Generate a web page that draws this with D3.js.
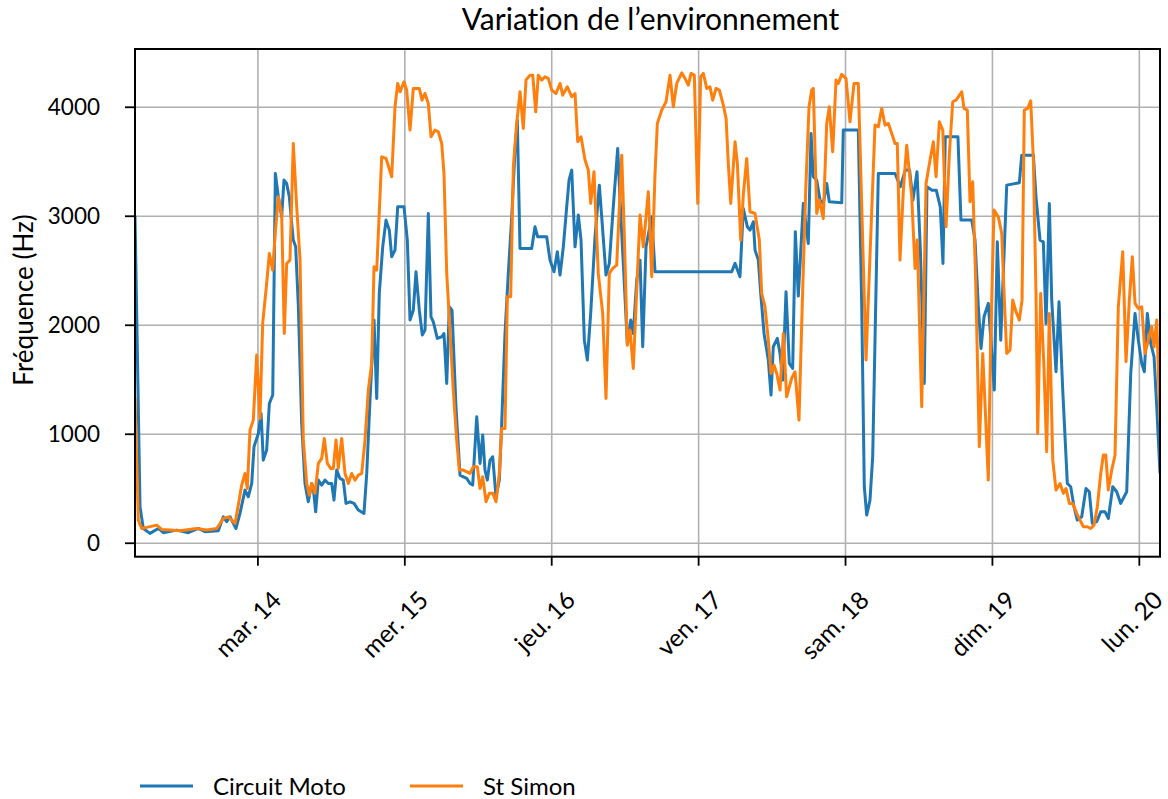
<!DOCTYPE html>
<html>
<head>
<meta charset="utf-8">
<script src="https://cdn.jsdelivr.net/npm/d3@7"></script>
<style>
body { margin: 0; background: #fff; }
text { font-family: Lato, sans-serif; fill: #000; font-variant-ligatures: none; }
</style>
</head>
<body>
<svg></svg>
<script>
// hours since 13 March 2023 04:00, value in Hz
let start = new Date(2023, 2, 13, 4, 0)
let endHours = 167.46

let motoData = [[0,3000],[0.82,330],[1.36,131],[2.45,86],[3.81,131],[4.63,92],[6.81,116],[8.71,92],[10.35,131],[11.44,101],[13.61,110],[14.43,238],[14.98,193],[15.52,238],[16.5,131],[17.15,269],[17.97,483],[18.51,422],[19.07,544],[19.44,880],[20.15,1003],[20.6,1186],[20.96,758],[21.51,850],[21.95,1278],[22.5,1355],[22.93,3388],[23.42,3174],[23.96,2990],[24.34,3327],[24.78,3296],[25.21,3174],[25.86,2777],[26.25,2715],[26.69,2165],[27.23,1095],[27.77,544],[28.31,376],[28.87,544],[29.13,498],[29.52,284],[29.95,575],[30.5,529],[31.04,575],[31.58,544],[32.14,544],[32.51,391],[32.95,667],[33.49,590],[34.03,575],[34.47,361],[35.13,376],[35.78,361],[36.48,300],[37.41,269],[37.86,636],[38.39,1309],[39.05,2043],[39.49,1324],[39.91,2287],[40.47,2715],[41.01,2960],[41.55,2868],[41.94,2624],[42.48,2685],[42.92,3082],[43.95,3082],[44.49,2777],[44.93,2043],[45.47,2134],[45.91,2486],[46.45,2134],[46.94,1905],[47.38,1951],[47.92,3021],[48.36,2073],[48.74,2027],[49.39,1875],[50.11,1890],[50.48,1920],[50.93,1462],[51.35,2165],[51.79,2134],[52.44,1248],[53.1,621],[53.64,605],[54.19,590],[54.73,544],[55.17,529],[55.83,1156],[56.37,728],[56.81,988],[57.18,667],[57.56,575],[58.0,758],[58.44,789],[58.98,422],[59.52,575],[59.91,1095],[60.45,1920],[60.99,2471],[61.55,2990],[62.08,3602],[62.46,3878],[62.9,2700],[64.81,2700],[65.35,2899],[65.79,2807],[67.26,2807],[67.8,2593],[68.46,2486],[69.0,2670],[69.44,2456],[69.98,2715],[70.53,3082],[70.91,3327],[71.35,3419],[71.89,2715],[72.43,3006],[72.87,2777],[73.41,1859],[73.9,1676],[74.45,2104],[75.16,2807],[75.86,3281],[76.41,2868],[76.95,2456],[77.49,2563],[78.14,3082],[78.86,3618],[79.35,3021],[79.89,2440],[80.43,1829],[80.99,2043],[81.41,1920],[81.97,2410],[82.51,2593],[82.95,1798],[83.49,2715],[84.42,2990],[84.96,2486],[97.49,2486],[98.03,2563],[98.84,2440],[99.38,3067],[100.04,2899],[100.48,2868],[101.02,2945],[101.3,2685],[101.84,2593],[102.23,2287],[102.77,1920],[103.47,1676],[103.91,1355],[104.28,1798],[104.94,1875],[105.38,1737],[105.82,1492],[106.36,2303],[106.9,1645],[107.45,1599],[107.88,2853],[108.37,2263],[109.19,3113],[110.0,2746],[110.45,3755],[110.82,3358],[111.38,3327],[111.91,3144],[112.45,3113],[113.01,3296],[113.43,3128],[115.46,3119],[115.72,3786],[118.17,3786],[118.73,2165],[119.15,514],[119.54,254],[120.08,391],[120.52,789],[120.9,1859],[121.44,3388],[124.17,3388],[125.03,3266],[125.85,3419],[126.55,3419],[127.1,3144],[127.76,3404],[128.3,2700],[128.95,1462],[129.39,3266],[130.21,3235],[130.91,3235],[131.56,3082],[132.0,2563],[132.38,3725],[134.45,3725],[134.94,2960],[136.7,2960],[137.24,2777],[137.78,2165],[138.22,1783],[138.71,2073],[139.41,2196],[140.39,1401],[140.88,2761],[141.44,1859],[142.42,3281],[144.48,3303],[144.87,3556],[146.77,3556],[147.2,3174],[147.86,2777],[148.4,2761],[148.84,2012],[149.38,3113],[149.77,2226],[150.47,1569],[150.96,2211],[151.57,1401],[152.32,544],[152.87,514],[153.41,330],[153.95,208],[154.67,239],[155.37,498],[155.91,468],[156.4,177],[157.12,193],[157.78,284],[158.48,284],[159.02,223],[159.74,514],[160.39,468],[161.04,361],[162.02,468],[162.68,1553],[163.38,2104],[163.92,1859],[164.48,1645],[164.9,1569],[165.39,2104],[165.95,1829],[166.49,1706],[166.93,1248],[167.46,636]]

let simonData = [[0,1340],[0.54,208],[1.09,131],[1.91,141],[3.54,162],[4.36,122],[5.72,116],[7.35,110],[10.08,131],[11.71,116],[13.35,131],[14.43,223],[15.25,238],[15.8,208],[16.34,177],[16.88,346],[17.43,529],[17.97,636],[18.35,498],[18.79,1034],[19.33,1125],[19.88,1722],[20.42,1140],[20.86,2012],[21.51,2379],[21.95,2654],[22.5,2501],[22.87,2807],[23.42,3174],[23.96,3021],[24.39,1920],[24.78,2562],[25.32,2593],[25.86,3663],[26.42,3082],[26.96,2600],[27.5,942],[28.05,544],[28.48,437],[28.87,544],[29.41,453],[29.95,728],[30.5,774],[30.93,957],[31.42,728],[31.97,682],[32.4,682],[32.84,942],[33.22,682],[33.77,957],[34.31,636],[34.85,544],[35.4,636],[35.94,575],[36.48,621],[37.04,636],[37.58,942],[38.12,1401],[38.67,1645],[39.05,2532],[39.49,2501],[40.31,3541],[41.01,3526],[41.94,3358],[42.48,4000],[42.92,4214],[43.3,4137],[43.95,4229],[44.39,4153],[44.93,3786],[45.47,4168],[46.45,4168],[46.89,4061],[47.38,4122],[47.92,4030],[48.36,3725],[49.01,3786],[49.55,3771],[50.11,3663],[50.48,3388],[50.93,2471],[51.46,1951],[52.0,1401],[52.56,942],[52.98,667],[53.64,667],[54.73,636],[55.27,697],[55.93,697],[56.37,498],[56.81,605],[57.35,376],[57.89,453],[58.44,453],[58.98,376],[59.52,636],[59.91,1049],[60.45,1049],[60.83,2257],[61.38,2257],[61.81,3449],[62.36,3847],[62.9,4137],[63.44,3801],[63.88,4245],[64.54,4290],[64.98,4290],[65.47,3954],[65.89,4290],[66.45,4245],[66.99,4275],[67.52,4260],[68.08,4153],[68.78,4122],[69.44,4214],[69.88,4107],[70.63,4183],[71.35,4092],[71.89,4122],[72.33,3679],[72.87,3725],[73.52,3511],[74.06,3419],[74.45,3113],[74.99,3404],[75.69,2471],[76.41,2104],[76.95,1324],[77.49,2471],[78.05,2517],[78.7,2547],[79.52,3556],[79.89,2929],[80.43,1813],[80.87,1951],[81.41,1599],[81.97,2318],[82.51,3006],[83.04,2715],[83.86,3220],[84.42,2440],[84.96,3388],[85.34,3847],[86.05,3969],[86.76,4046],[87.41,4290],[87.95,4000],[88.51,4214],[89.32,4312],[89.86,4260],[90.4,4199],[90.84,4306],[91.38,4290],[91.94,3113],[92.42,4275],[92.85,4306],[93.41,4168],[93.94,4183],[94.39,4061],[94.93,4168],[95.47,4153],[96.12,4015],[96.57,3893],[96.93,3480],[97.33,3113],[98.03,3679],[98.41,3480],[98.96,2777],[99.4,3205],[99.94,3526],[100.48,3037],[101.3,3021],[102.0,2777],[102.39,2287],[102.93,2165],[103.47,1859],[103.91,1553],[104.4,1630],[104.84,1553],[105.38,1401],[105.92,1920],[106.46,1339],[107.28,1508],[107.83,1569],[108.48,1125],[109.02,2196],[109.58,3235],[110.12,4000],[110.56,4153],[110.82,4168],[111.38,3021],[111.8,3144],[112.45,2975],[113.01,3847],[113.43,4000],[113.99,3587],[114.53,4245],[114.9,4214],[115.46,4297],[116.16,4260],[116.81,3862],[117.47,4214],[118.17,4214],[119.43,1676],[120.9,3832],[121.44,3817],[121.99,3985],[122.54,3832],[123.08,3847],[123.63,3755],[124.17,3663],[124.54,3663],[124.98,2593],[125.53,3235],[126.08,3648],[126.9,3174],[127.44,2517],[127.81,2777],[128.53,1248],[129.24,3296],[129.89,3511],[130.43,3679],[130.87,3358],[131.41,3862],[131.97,3786],[132.51,2899],[133.05,3572],[133.6,4046],[134.14,4061],[135.07,4137],[135.44,3985],[135.98,3969],[136.42,3128],[136.86,3312],[137.35,2400],[137.94,881],[138.5,1737],[138.87,1278],[139.41,575],[139.8,1859],[140.34,3052],[141.05,2990],[141.6,2838],[142.03,2226],[142.42,1737],[142.96,1768],[143.4,2226],[143.94,2119],[144.48,2043],[144.92,2226],[145.29,3969],[145.85,3985],[146.34,4055],[146.77,3511],[147.2,2287],[147.48,1003],[147.97,2287],[148.51,1600],[148.95,836],[149.38,2104],[149.94,758],[150.47,483],[151.13,544],[151.67,453],[152.11,498],[152.65,361],[153.2,361],[153.86,269],[154.4,208],[154.94,147],[155.59,147],[156.14,131],[156.68,162],[157.22,330],[157.78,636],[158.2,804],[158.6,804],[159.02,483],[159.57,667],[160.11,804],[160.65,2165],[161.37,2670],[161.91,1661],[162.45,2226],[162.94,2624],[163.38,2196],[163.92,2150],[164.48,2165],[165.01,1737],[165.55,1859],[166.1,1982],[166.49,1798],[166.93,2043],[167.46,1100]]

let seriesNames = ['Circuit Moto', 'St Simon']
let seriesColors = ['#1f77b4', '#ff7f0e']
let yTicks = [0, 1000, 2000, 3000, 4000]
let dayTicks = [14, 15, 16, 17, 18, 19, 20]
let dayNames = ['dim.', 'lun.', 'mar.', 'mer.', 'jeu.', 'ven.', 'sam.']

let width = 1168
let height = 799
let plotLeft = 135, plotRight = 1160, plotTop = 49, plotBottom = 556.7

let svg = d3.select('svg').attr('width', width).attr('height', height)

let toDate = (h) => new Date(start.getTime() + h * 3600e3)
let tickDates = dayTicks.map(d => new Date(2023, 2, d))

let xScale = d3.scaleTime()
    .domain([start, toDate(endHours)])
    .range([plotLeft, plotRight])

let yScale = d3.scaleLinear()
    .domain([-128, 4530])
    .range([plotBottom, plotTop])

// grid
svg.append('g')
    .attr('transform', 'translate(0,' + plotBottom + ')')
    .call(d3.axisBottom(xScale).tickValues(tickDates).tickSize(-(plotBottom - plotTop)).tickFormat(''))
    .call(g => g.select('.domain').remove())
    .selectAll('line').attr('stroke', '#b0b0b0').attr('stroke-width', 1.6)

svg.append('g')
    .attr('transform', 'translate(' + plotLeft + ',0)')
    .call(d3.axisLeft(yScale).tickValues(yTicks).tickSize(-(plotRight - plotLeft)).tickFormat(''))
    .call(g => g.select('.domain').remove())
    .selectAll('line').attr('stroke', '#b0b0b0').attr('stroke-width', 1.6)

svg.append('clipPath').attr('id', 'clip')
    .append('rect').attr('x', plotLeft).attr('y', plotTop)
    .attr('width', plotRight - plotLeft).attr('height', plotBottom - plotTop)

let line = d3.line()
    .x(d => xScale(toDate(d[0])))
    .y(d => yScale(d[1]))

let plot = svg.append('g').attr('clip-path', 'url(#clip)')
;[motoData, simonData].forEach((data, i) => {
    plot.append('path')
        .datum(data)
        .attr('fill', 'none')
        .attr('stroke', seriesColors[i])
        .attr('stroke-width', 3)
        .attr('stroke-linejoin', 'round')
        .attr('d', line)
})

// axes
let xAxis = svg.append('g')
    .attr('transform', 'translate(0,' + plotBottom + ')')
    .call(d3.axisBottom(xScale)
        .tickValues(tickDates)
        .tickSize(9)
        .tickFormat(d => dayNames[d.getDay()] + ' ' + d.getDate()))
xAxis.select('.domain').remove()
xAxis.selectAll('line').attr('stroke', '#000').attr('stroke-width', 1.8)
xAxis.selectAll('text')
    .attr('x', 0).attr('y', 0).attr('dy', 0)
    .attr('text-anchor', 'end')
    .attr('transform', 'translate(25,45) rotate(-45)')
    .style('font-size', '24.5px')

let yAxis = svg.append('g')
    .attr('transform', 'translate(' + plotLeft + ',0)')
    .call(d3.axisLeft(yScale).tickValues(yTicks).tickSize(10).tickPadding(25).tickFormat(d3.format('d')))
yAxis.select('.domain').remove()
yAxis.selectAll('line').attr('stroke', '#000').attr('stroke-width', 1.8)
yAxis.selectAll('text').attr('dy', '0.36em').style('font-size', '22.5px')

svg.append('rect')
    .attr('x', plotLeft).attr('y', plotTop)
    .attr('width', plotRight - plotLeft).attr('height', plotBottom - plotTop)
    .attr('fill', 'none').attr('stroke', '#000').attr('stroke-width', 2)

// labels
svg.append('text')
    .attr('x', (plotLeft + plotRight) / 2 + 3).attr('y', 30)
    .attr('text-anchor', 'middle')
    .style('font-size', '30px')
    .text('Variation de l’environnement')

svg.append('text')
    .attr('transform', 'translate(33,300) rotate(-90)')
    .attr('text-anchor', 'middle')
    .style('font-size', '26px')
    .text('Fréquence (Hz)')

// legend
let legendX = [140, 410]
seriesNames.forEach((name, i) => {
    let g = svg.append('g').attr('transform', 'translate(' + legendX[i] + ',786)')
    g.append('line').attr('x1', 0).attr('x2', 53).attr('y1', 0).attr('y2', 0)
        .attr('stroke', seriesColors[i]).attr('stroke-width', 3)
    g.append('text').attr('x', 73).attr('y', 9).style('font-size', '24px').text(name)
})
</script>
</body>
</html>
